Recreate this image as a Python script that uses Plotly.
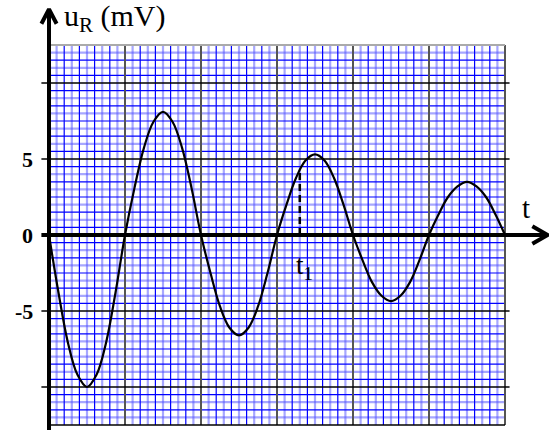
import numpy as np
import plotly.graph_objects as go

# time in major divisions, u_R in mV
t_vals = [0.0, 0.125, 0.25, 0.375, 0.5, 0.625, 0.75, 0.875,
          1.0, 1.125, 1.25, 1.375, 1.5, 1.625, 1.75, 1.875,
          2.0, 2.125, 2.25, 2.375, 2.5, 2.625, 2.75, 2.875,
          3.0, 3.125, 3.25, 3.375, 3.5, 3.625, 3.75, 3.875,
          4.0, 4.125, 4.25, 4.375, 4.5, 4.625, 4.75, 4.875,
          5.0, 5.125, 5.25, 5.375, 5.5, 5.625, 5.75, 5.875, 6.0]
u_vals = [0.0, -3.8, -7.1, -9.2, -10.0, -9.2, -7.1, -3.8,
          0.0, 3.1, 5.75, 7.45, 8.1, 7.45, 5.75, 3.1,
          0.0, -2.5, -4.7, -6.1, -6.6, -6.1, -4.7, -2.5,
          0.0, 2.0, 3.75, 4.9, 5.3, 4.9, 3.75, 2.0,
          0.0, -1.65, -3.1, -4.0, -4.35, -4.0, -3.1, -1.65,
          0.0, 1.35, 2.5, 3.2, 3.5, 3.2, 2.5, 1.35, 0.0]
y_ticks = [5, 0, -5]
y_tick_labels = ["5", "0", "-5"]
t1 = 3.30
u_t1 = 4.3

x_min, x_max = 0.0, 6.0
y_min, y_max = -12.5, 12.5

W, H = 549, 430
X0_PX, Y0_PX = 49, 235      # where t=0 / u=0 land on the page
PX_PER_DIV, PX_PER_MV = 76, 15.2

fig = go.Figure()


def add_lines(xs, ys, color, width, dash="solid"):
    fig.add_trace(go.Scatter(x=xs, y=ys, mode="lines", hoverinfo="skip",
                             line=dict(color=color, width=width, dash=dash)))


def verticals(vals, y0, y1):
    xs, ys = [], []
    for v in vals:
        xs += [v, v, None]
        ys += [y0, y1, None]
    return xs, ys


def horizontals(vals, x0, x1):
    xs, ys = [], []
    for v in vals:
        xs += [x0, x1, None]
        ys += [v, v, None]
    return xs, ys


# minor grid, two shades of blue alternating
minor_x = np.round(np.arange(0.1, 6.0, 0.1), 2)
minor_y = np.round(np.arange(-12.0, 12.5, 0.5), 2)
mx_light = [v for i, v in enumerate(minor_x) if round(v * 10) % 10 != 0 and i % 2 == 0]
mx_dark = [v for i, v in enumerate(minor_x) if round(v * 10) % 10 != 0 and i % 2 == 1]
my_light = [v for i, v in enumerate(minor_y) if v % 5 != 0 and i % 2 == 0]
my_dark = [v for i, v in enumerate(minor_y) if v % 5 != 0 and i % 2 == 1]

add_lines(*verticals(mx_light, y_min, y_max), "rgba(80,80,255,0.5)", 2.2)
add_lines(*horizontals(my_light, x_min, x_max), "rgba(80,80,255,0.5)", 2.2)
add_lines(*verticals(mx_dark, y_min, y_max), "#0000ff", 1.2)
add_lines(*horizontals(my_dark, x_min, x_max), "#0000ff", 1.2)

# major grid
add_lines(*verticals([1, 2, 3, 4, 5, 6], y_min, y_max), "#555555", 2)
add_lines(*horizontals([12.5], x_min, x_max), "#aaaaaa", 2)
add_lines(*horizontals([10, 5, -5, -10], -0.1, 6.06), "black", 1.5)
add_lines(*horizontals([-12.5], x_min, x_max), "black", 1.5)

# axes with arrow heads
add_lines([0, 0], [-12.9, 14.75], "black", 4)
add_lines([-0.1, 0, 0.1], [13.9, 14.85, 13.9], "black", 4)
add_lines([-0.1, 6.55], [0, 0], "black", 4)
add_lines([6.36, 6.56, 6.36], [0.58, 0, -0.58], "black", 4)

# t1 marker
add_lines([t1, t1], [0, u_t1], "black", 2.5, "7px,4px")

# signal
fig.add_trace(go.Scatter(x=t_vals, y=u_vals, mode="lines", hoverinfo="skip",
                         line=dict(color="black", width=2.2, shape="spline", smoothing=1)))

serif = "Times New Roman, Liberation Serif, serif"
for v, lab in zip(y_ticks, y_tick_labels):
    fig.add_annotation(x=-0.18, y=v, text="<b>%s</b>" % lab, showarrow=False,
                       xanchor="right", yanchor="middle",
                       font=dict(family=serif, size=22, color="black"))

fig.add_annotation(x=0.17, y=14.3, text="u<sub>R</sub> (mV)", showarrow=False,
                   xanchor="left", yanchor="middle",
                   font=dict(family=serif, size=30, color="black"))
fig.add_annotation(x=6.2, y=1.75, text="t", showarrow=False,
                   xanchor="left", yanchor="middle",
                   font=dict(family=serif, size=29, color="black"))
fig.add_annotation(x=t1 - 0.08, y=-2.1, text="t<sub>1</sub>", showarrow=False,
                   xanchor="left", yanchor="middle",
                   font=dict(family=serif, size=27, color="black"))

fig.update_layout(
    width=W, height=H,
    margin=dict(l=0, r=0, t=0, b=0),
    paper_bgcolor="white", plot_bgcolor="white",
    showlegend=False,
    xaxis=dict(range=[-X0_PX / PX_PER_DIV, (W - X0_PX) / PX_PER_DIV],
               visible=False, fixedrange=True),
    yaxis=dict(range=[-(H - Y0_PX) / PX_PER_MV, Y0_PX / PX_PER_MV],
               visible=False, fixedrange=True),
)

# drop the browser's default 8px body margin so the figure sits at the corner
fig.write_html("out.html", config={"displayModeBar": False},
               post_script="document.body.style.margin='0';")
